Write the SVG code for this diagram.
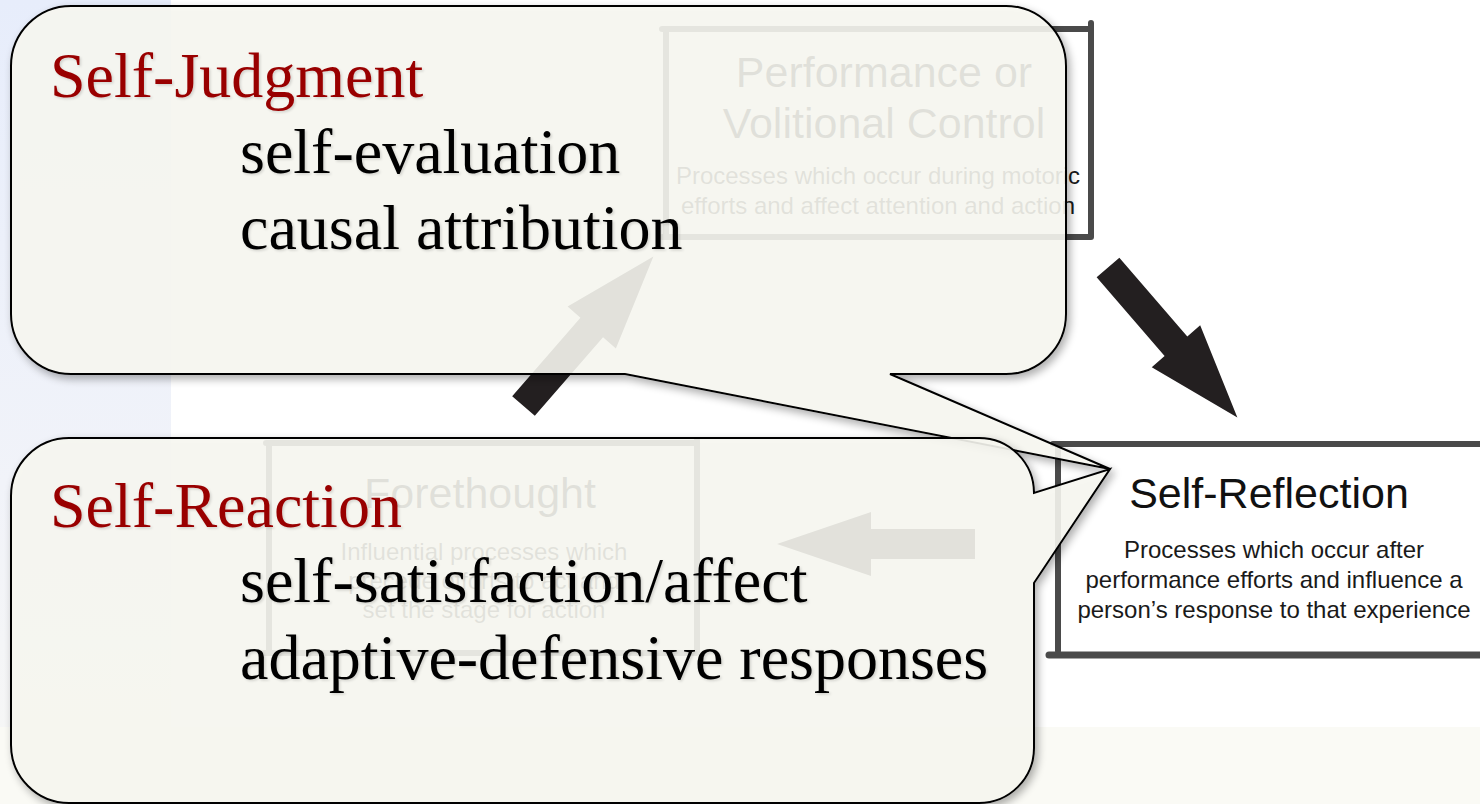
<svg xmlns="http://www.w3.org/2000/svg" xmlns:xlink="http://www.w3.org/1999/xlink" width="1480" height="804" viewBox="0 0 1480 804">
<defs>
<linearGradient id="blueStrip" x1="0" y1="0" x2="0" y2="1">
<stop offset="0" stop-color="#e7edfb"/>
<stop offset="0.6" stop-color="#f1f3f9"/>
<stop offset="1" stop-color="#f7f7f5"/>
</linearGradient>
<filter id="shadow" x="-5%" y="-5%" width="115%" height="125%">
<feGaussianBlur in="SourceAlpha" stdDeviation="4"/>
<feOffset dx="3" dy="4"/>
<feComponentTransfer><feFuncA type="linear" slope="0.35"/></feComponentTransfer>
<feComposite in2="SourceAlpha" operator="out" result="sh"/>
<feMerge><feMergeNode in="sh"/><feMergeNode in="SourceGraphic"/></feMerge>
</filter>
<filter id="tshadow" x="-5%" y="-20%" width="110%" height="150%">
<feDropShadow dx="1.5" dy="1.5" stdDeviation="1" flood-color="#000" flood-opacity="0.15"/>
</filter>
<path id="blockArrow" d="M0,-15 H104 V-32 L198,0 L104,32 V15 H0 Z"/>
</defs>
<style>
.frame{fill:none;stroke:#4a4a4a;stroke-width:6;stroke-linecap:round}
.title{font-family:"Liberation Sans",Arial,sans-serif;font-size:43px;fill:#111;text-anchor:middle}
.body{font-family:"Liberation Sans",Arial,sans-serif;font-size:24px;fill:#1a1a1a;text-anchor:middle}
.arrow{fill:#231f20}
.callout{fill:#f6f6f0;fill-opacity:0.9;stroke:#000;stroke-width:2;stroke-linejoin:miter}
.head{font-family:"Liberation Serif","Times New Roman",serif;font-size:64px;fill:#990000}
.item{font-family:"Liberation Serif","Times New Roman",serif;font-size:64px;fill:#000}
</style>

<rect x="0" y="0" width="1480" height="804" fill="#ffffff"/>
<rect x="0" y="0" width="171" height="804" fill="url(#blueStrip)"/>
<rect x="0" y="727" width="1480" height="77" fill="#fafaf5"/>

<g id="node-performance">
<path class="frame" d="M662,29 H1091 M666,29 V237 M1091,23 V237 M662,237 H1091"/>
<text class="title" x="884" y="87">Performance or</text>
<text class="title" x="884" y="138">Volitional Control</text>
<text class="body" x="878" y="184">Processes which occur during motoric</text>
<text class="body" x="878" y="214">efforts and affect attention and action</text>
</g>

<g id="node-forethought">
<path class="frame" d="M266,443 H697 M269,443 V652 M697,440 V652 M264,653 H697"/>
<text class="title" x="480" y="508">Forethought</text>
<text class="body" x="484" y="560">Influential processes which</text>
<text class="body" x="484" y="589">precede efforts to act and</text>
<text class="body" x="484" y="618">set the stage for action</text>
</g>

<g id="node-selfreflection">
<path class="frame" d="M1053,444 H1482 M1058,444 V651"/>
<path class="frame" style="stroke-width:7" d="M1049,655 H1482"/>
<text class="title" x="1269" y="508">Self-Reflection</text>
<text class="body" x="1274" y="558">Processes which occur after</text>
<text class="body" x="1274" y="588">performance efforts and influence a</text>
<text class="body" x="1274" y="618">person’s response to that experience</text>
</g>

<g id="connectors">
<use xlink:href="#blockArrow" class="arrow" transform="translate(523.5,406) rotate(-49)"/>
<use xlink:href="#blockArrow" class="arrow" transform="translate(1108,267.5) rotate(49.2)"/>
<use xlink:href="#blockArrow" class="arrow" transform="translate(975,544) rotate(180)"/>
</g>

<g id="callout-self-judgment">
<path class="callout" filter="url(#shadow)" d="M71,6 H1006 A60,60 0 0 1 1066,66 V314 A60,60 0 0 1 1006,374 H890 L1110,469 L625,374 H71 A60,60 0 0 1 11,314 V66 A60,60 0 0 1 71,6 Z"/>
<g filter="url(#tshadow)">
<text class="head" x="50" y="97">Self-Judgment</text>
<text class="item" x="240" y="173">self-evaluation</text>
<text class="item" x="240" y="249">causal attribution</text>
</g>
</g>

<g id="callout-self-reaction">
<path class="callout" filter="url(#shadow)" d="M69,438 H979 A55,55 0 0 1 1034,493 L1110,469 L1034,583 V748 A55,55 0 0 1 979,803 H69 A58,58 0 0 1 11,745 V496 A58,58 0 0 1 69,438 Z"/>
<g filter="url(#tshadow)">
<text class="head" x="50" y="527">Self-Reaction</text>
<text class="item" x="240" y="602">self-satisfaction/affect</text>
<text class="item" x="240" y="679">adaptive-defensive responses</text>
</g>
</g>
</svg>
